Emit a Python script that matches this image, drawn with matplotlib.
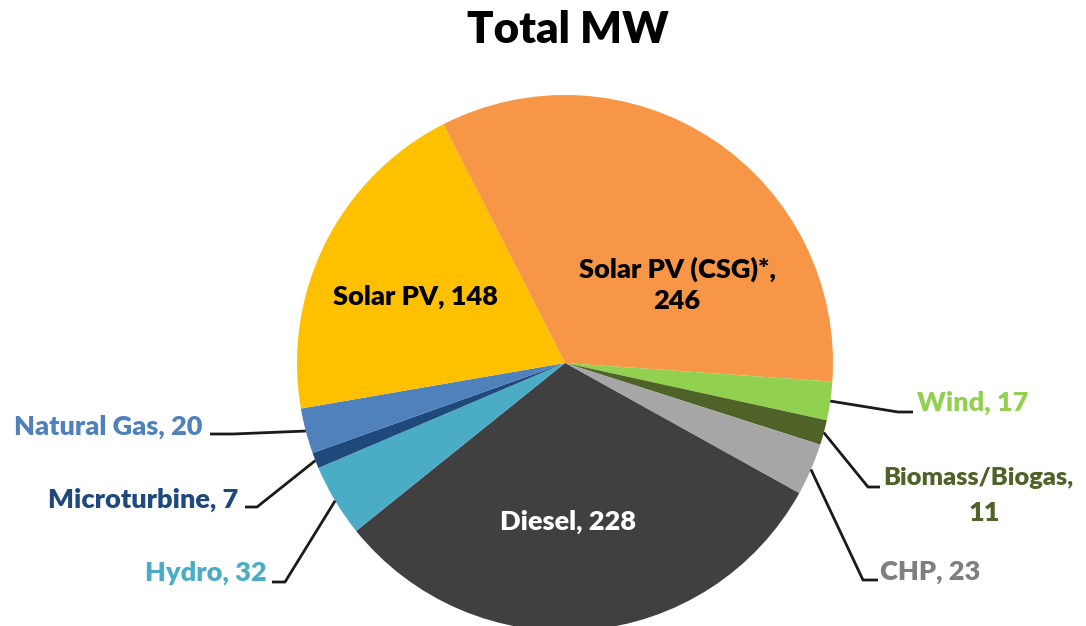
import matplotlib
matplotlib.use('Agg')
import matplotlib.pyplot as plt
import numpy as np

labels = ['Solar PV (CSG)*', 'Wind', 'Biomass/Biogas', 'CHP', 'Diesel',
          'Hydro', 'Microturbine', 'Natural Gas', 'Solar PV']
values = [246, 17, 11, 23, 228, 32, 7, 20, 148]
colors = ['#F79646', '#92D050', '#4F6228', '#A6A6A6', '#404040',
          '#4BACC6', '#1F497D', '#4F81BD', '#FFC000']
text_colors = ['black', '#92D050', '#4F6228', '#7F7F7F', 'white',
               '#4BACC6', '#1F497D', '#4F81BD', 'black']

W, H = 1086, 626
cx, cy, R = 565, 263, 268
START = 117

plt.rcParams['font.family'] = ['Lato', 'DejaVu Sans']
plt.rcParams['font.weight'] = 'bold'

fig = plt.figure(figsize=(W / 100, H / 100), dpi=100)
ax = fig.add_axes([0, 0, 1, 1])
wedges, _ = ax.pie(values, colors=colors, startangle=START, counterclock=False,
                   center=(cx, cy), radius=R, wedgeprops=dict(linewidth=0))
ax.set_xlim(0, W)
ax.set_ylim(0, H)
ax.set_aspect('equal')
ax.axis('off')


def px(x, y):
    # pixel coords (from top) -> data coords
    return x, H - y


fs = 19.5

# labels inside the pie
inside = {0: (677, 285), 4: (568, 522), 8: (415, 297)}
for i, (x, y) in inside.items():
    if i == 0:
        txt = labels[i] + ',\n' + str(values[i])
    else:
        txt = labels[i] + ', ' + str(values[i])
    ax.text(*px(x, y), txt, ha='center', va='center', fontsize=fs,
            color=text_colors[i], fontweight='heavy', linespacing=1.35)

# labels outside with leader lines: elbow, end of line, text anchor, ha
outside = {
    1: ((898, 412), (913, 412), (917, 403), 'left'),
    2: ((868, 487), (880, 487), (883, 478), 'left'),
    3: ((863, 580), (878, 580), (880, 572), 'left'),
    5: ((285, 582), (272, 582), (267, 573), 'right'),
    6: ((257, 507), (245, 507), (238, 500), 'right'),
    7: ((233, 434), (210, 434), (202, 427), 'right'),
}
for i, (elbow, end, tpos, ha) in outside.items():
    w = wedges[i]
    mid = np.deg2rad((w.theta1 + w.theta2) / 2)
    sx = cx + R * np.cos(mid)
    sy = cy + R * np.sin(mid)
    ex, ey = px(*elbow)
    fx, fy = px(*end)
    ax.plot([sx, ex, fx], [sy, ey, fy], color='#1a1a1a', lw=2, solid_capstyle='butt')
    if i == 2:
        ax.text(*px(*tpos), labels[i] + ',', ha='left', va='center', fontsize=18.3,
                color=text_colors[i], fontweight='heavy')
        ax.text(*px(984, 513), str(values[i]), ha='center', va='center', fontsize=fs,
                color=text_colors[i], fontweight='heavy')
    else:
        ax.text(*px(*tpos), labels[i] + ', ' + str(values[i]), ha=ha, va='center',
                fontsize=fs, color=text_colors[i], fontweight='heavy')

ax.text(*px(568, 30), 'Total MW', ha='center', va='center', fontsize=31.5,
        fontweight='heavy', color='black')

fig.savefig('out.png', dpi=100)
